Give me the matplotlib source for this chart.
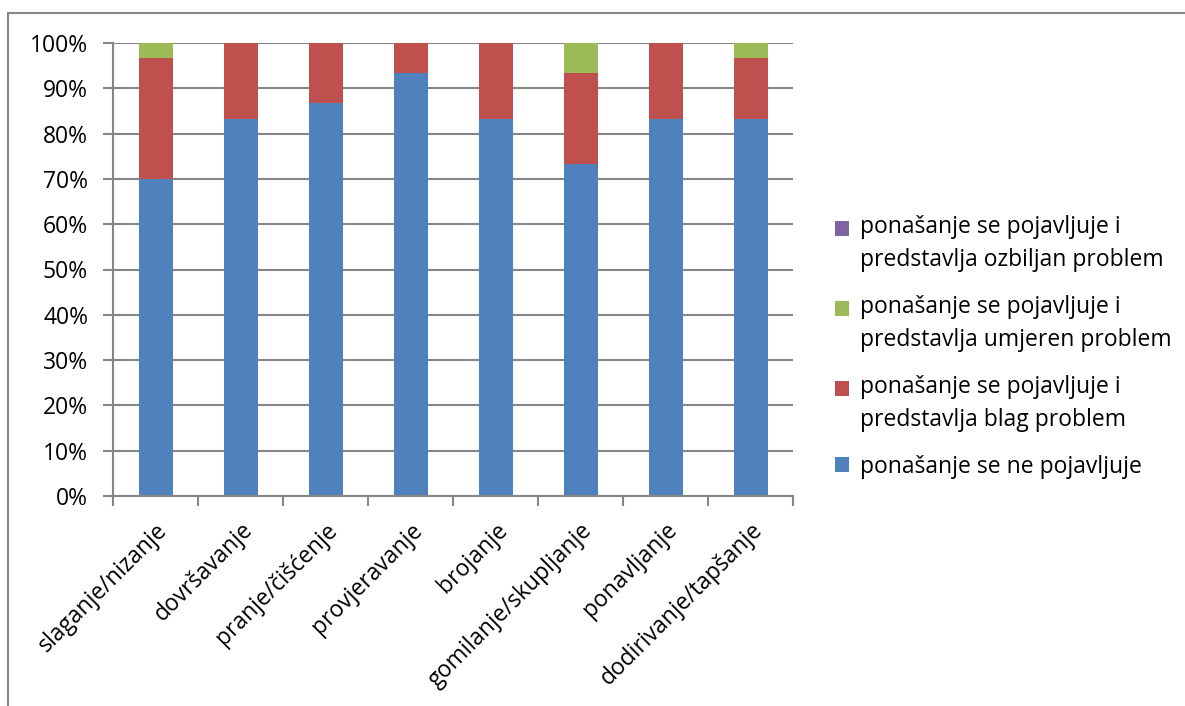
import matplotlib.pyplot as plt
from matplotlib.patches import Rectangle
from matplotlib.ticker import PercentFormatter
from matplotlib.legend_handler import HandlerPatch, update_from_first_child

plt.rcParams['font.family'] = ['Open Sans', 'DejaVu Sans']

categories = ['slaganje/nizanje', 'dovršavanje', 'pranje/čišćenje', 'provjeravanje',
              'brojanje', 'gomilanje/skupljanje', 'ponavljanje', 'dodirivanje/tapšanje']
ne_pojavljuje = [70.0, 83.3, 86.7, 93.3, 83.3, 73.3, 83.3, 83.3]
blag = [26.7, 16.7, 13.3, 6.7, 16.7, 20.0, 16.7, 13.3]
umjeren = [3.3, 0, 0, 0, 0, 6.7, 0, 3.3]
ozbiljan = [0, 0, 0, 0, 0, 0, 0, 0]

series = [
    ('ponašanje se ne pojavljuje', ne_pojavljuje, '#4F81BD'),
    ('ponašanje se pojavljuje i\npredstavlja blag problem', blag, '#C0504D'),
    ('ponašanje se pojavljuje i\npredstavlja umjeren problem', umjeren, '#9BBB59'),
    ('ponašanje se pojavljuje i\npredstavlja ozbiljan problem', ozbiljan, '#8064A2'),
]

fig = plt.figure(figsize=(11.85, 7.06), dpi=100)
ax = fig.add_axes([113 / 1185, 1 - 496 / 706, 680 / 1185, 453 / 706])

# outer chart frame (cut off on right and bottom like the original)
fig.patches.append(Rectangle((8 / 1185, -0.1), 1.2, 1 - 13 / 706 + 0.1,
                             transform=fig.transFigure, fill=False,
                             edgecolor='#868686', linewidth=1.5))

x = range(len(categories))
bottom = [0] * len(categories)
handles = []
for name, vals, col in series:
    h = ax.bar(x, vals, 0.4, bottom=bottom, color=col, label=name,
               edgecolor='none')
    handles.append(h)
    bottom = [b + v for b, v in zip(bottom, vals)]

ax.set_xlim(-0.5, len(categories) - 0.5)
ax.set_ylim(0, 100)
ax.set_yticks(range(0, 101, 10))
ax.yaxis.set_major_formatter(PercentFormatter(decimals=0))
ax.yaxis.grid(True, color='#868686', linewidth=1.5)
ax.set_axisbelow(True)

ax.set_xticks([i - 0.5 for i in range(len(categories) + 1)])
ax.set_xticklabels([])
ax.set_xticks(list(x), minor=True)
ax.set_xticklabels(categories, minor=True, rotation=45, ha='right',
                   rotation_mode='anchor', fontsize=16.5)
ax.tick_params(axis='x', which='minor', length=0, pad=16)
ax.tick_params(axis='x', which='major', length=7, width=1.5, color='#868686')
ax.tick_params(axis='y', length=7, width=1.5, color='#868686', labelsize=16.5, pad=11)

for s in ['top', 'right']:
    ax.spines[s].set_visible(False)
for s in ['left', 'bottom']:
    ax.spines[s].set_color('#868686')
    ax.spines[s].set_linewidth(1.5)

LINE_PT = 11.5  # square lift for two-line labels, points


def top_square(lines):
    # legend square aligned with the first line of a multi-line label
    def make(legend, orig_handle, xdescent, ydescent, width, height, fontsize):
        return Rectangle((-xdescent, -ydescent + (lines - 1) * LINE_PT), width, height)
    return make


leg_handles = handles[::-1]
leg_labels = [s[0] for s in series[::-1]]
hmap = {h: HandlerPatch(patch_func=top_square(lab.count('\n') + 1),
                        update_func=update_from_first_child)
        for h, lab in zip(leg_handles, leg_labels)}

leg = fig.legend(leg_handles, leg_labels, loc='upper left', handler_map=hmap,
                 bbox_to_anchor=(835 / 1185, 1 - 215 / 706), frameon=False,
                 fontsize=16.5, handlelength=0.6, handleheight=0.6,
                 handletextpad=0.5, labelspacing=1.0, borderpad=0, borderaxespad=0)
for t in leg.get_texts():
    t.set_linespacing(1.5)

fig.savefig('out.png', dpi=100)
